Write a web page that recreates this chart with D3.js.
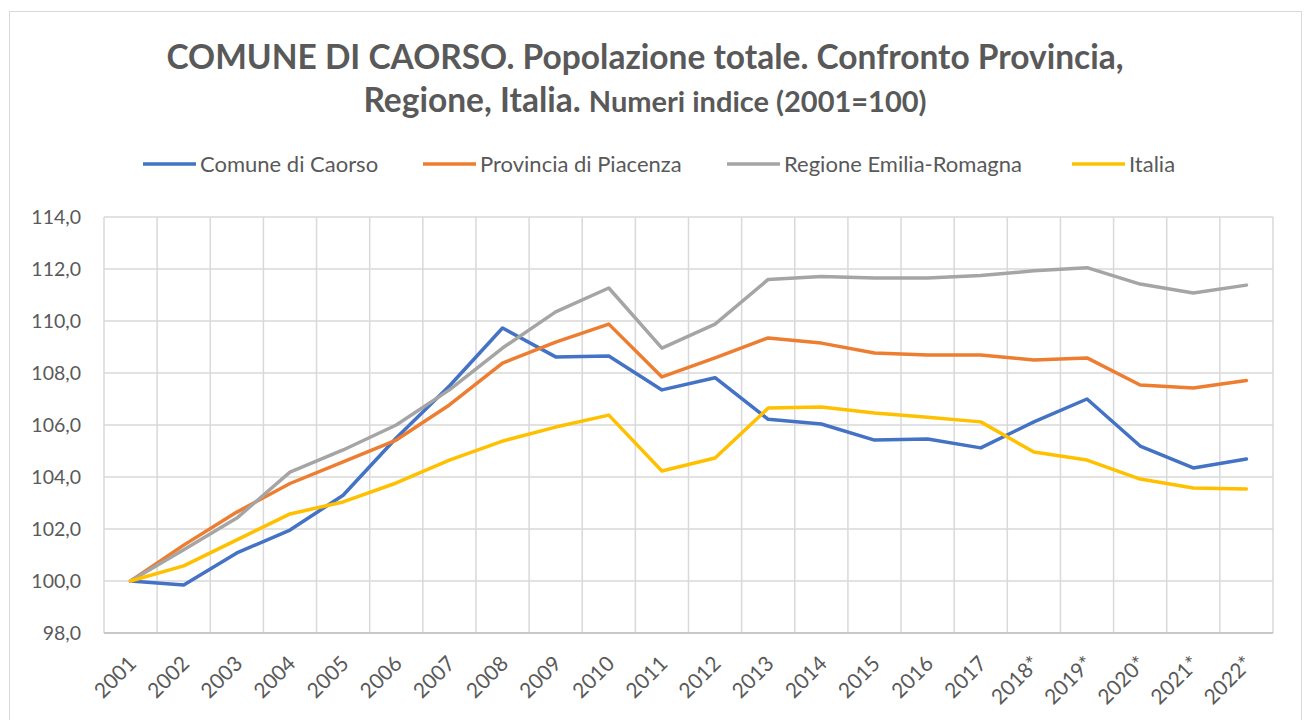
<!DOCTYPE html>
<html>
<head>
<meta charset="utf-8">
<script src="https://cdn.jsdelivr.net/npm/d3@7"></script>
<style>
  body { margin: 0; background: #fff; }
  svg { display: block; font-family: Lato, "Open Sans", sans-serif; }
</style>
</head>
<body>
<svg id="chart" width="1304" height="720"></svg>
<script>
// categories (asterisk = provisional years)
const years = ["2001", "2002", "2003", "2004", "2005", "2006", "2007", "2008", "2009", "2010",
  "2011", "2012", "2013", "2014", "2015", "2016", "2017", "2018*", "2019*", "2020*", "2021*", "2022*"];

// index numbers, 2001 = 100
const caorso = [100.0, 99.85, 101.08, 101.96, 103.3, 105.5, 107.5, 109.73, 108.62, 108.65,
  107.35, 107.82, 106.22, 106.04, 105.42, 105.46, 105.12, 106.12, 107.0, 105.19, 104.35, 104.69];
const provincia = [100.0, 101.38, 102.65, 103.75, 104.58, 105.42, 106.77, 108.38, 109.19, 109.88,
  107.85, 108.58, 109.35, 109.15, 108.77, 108.69, 108.69, 108.5, 108.58, 107.54, 107.42, 107.71];
const regione = [100.0, 101.2, 102.42, 104.19, 105.04, 106.0, 107.35, 108.96, 110.35, 111.27,
  108.96, 109.88, 111.6, 111.71, 111.65, 111.65, 111.75, 111.93, 112.05, 111.42, 111.08, 111.38];
const italia = [100.0, 100.58, 101.58, 102.58, 103.04, 103.77, 104.65, 105.38, 105.92, 106.38,
  104.23, 104.73, 106.65, 106.69, 106.46, 106.3, 106.12, 104.96, 104.65, 103.92, 103.58, 103.54];

const seriesNames = ["Comune di Caorso", "Provincia di Piacenza", "Regione Emilia-Romagna", "Italia"];
const seriesValues = [caorso, provincia, regione, italia];
const colors = ["#4472C4", "#ED7D31", "#A5A5A5", "#FFC000"];

const yTicks = [98, 100, 102, 104, 106, 108, 110, 112, 114];

const textColor = "#595959";
const gridColor = "#d9d9d9";

const svg = d3.select("#chart");

// chart frame
svg.append("rect")
  .attr("x", 9.5).attr("y", 11.5)
  .attr("width", 1292).attr("height", 720)
  .attr("fill", "#fff")
  .attr("stroke", gridColor)
  .attr("stroke-width", 1);

// title
const title = svg.append("g")
  .attr("fill", textColor)
  .attr("font-weight", "bold")
  .attr("text-anchor", "middle");

title.append("text")
  .attr("x", 645).attr("y", 69)
  .attr("font-size", 33.5)
  .text("COMUNE DI CAORSO. Popolazione totale. Confronto Provincia,");

const t2 = title.append("text")
  .attr("x", 645).attr("y", 112)
  .attr("font-size", 33.5);
t2.append("tspan").text("Regione, Italia. ");
t2.append("tspan").attr("font-size", 29).text("Numeri indice (2001=100)");

// scales
const margin = { left: 104, right: 1273, top: 217, bottom: 633 };

const x = d3.scaleBand()
  .domain(years)
  .range([margin.left, margin.right])
  .padding(0);

const y = d3.scaleLinear()
  .domain([98, 114])
  .range([margin.bottom, margin.top]);

const fmt = v => d3.format(".1f")(v).replace(".", ",");

// horizontal grid
svg.append("g")
  .selectAll("line")
  .data(yTicks)
  .join("line")
  .attr("x1", margin.left).attr("x2", margin.right)
  .attr("y1", d => y(d)).attr("y2", d => y(d))
  .attr("stroke", gridColor)
  .attr("stroke-width", 1.5);

// vertical grid on category boundaries
const bounds = years.map(d => x(d)).concat([margin.right]);
svg.append("g")
  .selectAll("line")
  .data(bounds)
  .join("line")
  .attr("x1", d => d).attr("x2", d => d)
  .attr("y1", margin.top).attr("y2", margin.bottom)
  .attr("stroke", gridColor)
  .attr("stroke-width", 1.5);

// x axis line
svg.append("line")
  .attr("x1", margin.left).attr("x2", margin.right)
  .attr("y1", margin.bottom).attr("y2", margin.bottom)
  .attr("stroke", "#bfbfbf")
  .attr("stroke-width", 1.5);

// y labels
svg.append("g")
  .selectAll("text")
  .data(yTicks)
  .join("text")
  .attr("x", 81)
  .attr("y", d => y(d))
  .attr("dy", "0.35em")
  .attr("text-anchor", "end")
  .attr("font-size", 19.5)
  .attr("fill", textColor)
  .text(fmt);

// x labels, rotated
svg.append("g")
  .selectAll("text")
  .data(years)
  .join("text")
  .attr("transform", d => `translate(${x(d) + x.bandwidth() / 2 + 7},${665}) rotate(-45)`)
  .attr("text-anchor", "end")
  .attr("font-size", 21)
  .attr("fill", textColor)
  .text(d => d);

// lines
const line = d3.line()
  .x((d, i) => x(years[i]) + x.bandwidth() / 2)
  .y(d => y(d));

svg.append("g")
  .selectAll("path")
  .data(seriesValues)
  .join("path")
  .attr("d", line)
  .attr("fill", "none")
  .attr("stroke", (d, i) => colors[i])
  .attr("stroke-width", 3.5)
  .attr("stroke-linejoin", "round")
  .attr("stroke-linecap", "round");

// legend
const legendX = [143, 423, 727, 1072];
const legend = svg.append("g")
  .selectAll("g")
  .data(seriesNames)
  .join("g")
  .attr("transform", (d, i) => `translate(${legendX[i]},164)`);

legend.append("line")
  .attr("x1", 0).attr("x2", 53)
  .attr("stroke", (d, i) => colors[i])
  .attr("stroke-width", 3.5);

legend.append("text")
  .attr("x", 57)
  .attr("dy", "0.35em")
  .attr("font-size", 22)
  .attr("fill", textColor)
  .text(d => d);
</script>
</body>
</html>
